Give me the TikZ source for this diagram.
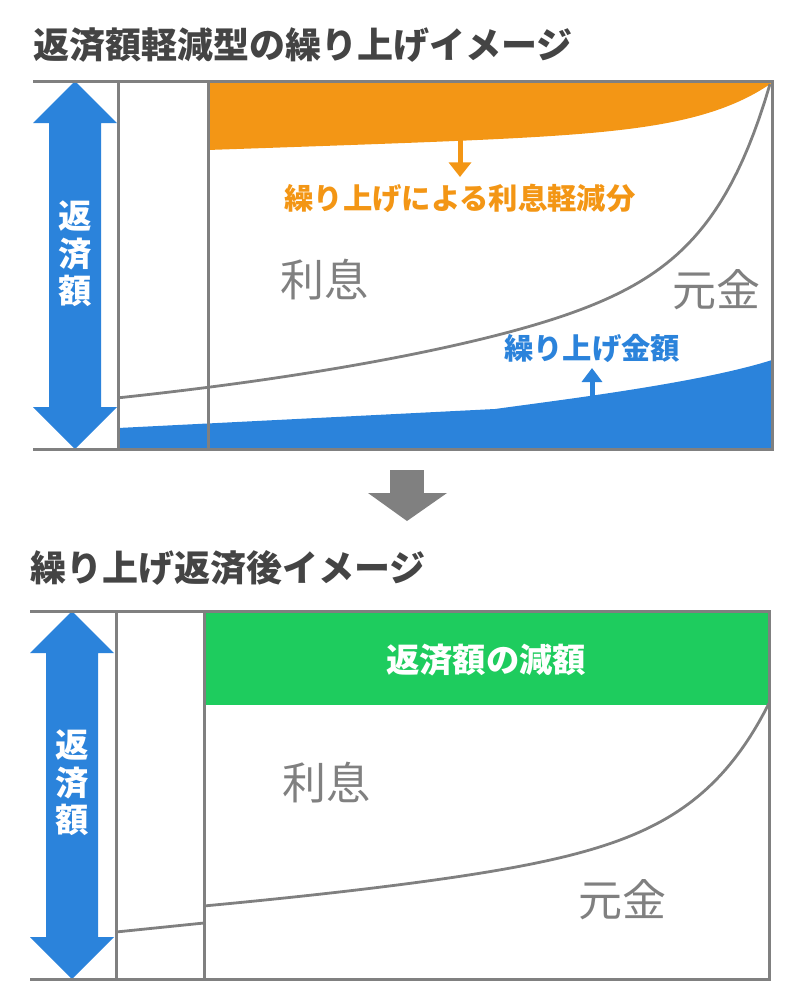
\documentclass[tikz,border=0pt]{standalone}
\usepackage{fontspec}
\setmainfont{Noto Sans CJK JP}
\usetikzlibrary{calc,arrows.meta}
\definecolor{payblue}{RGB}{43,131,219}
\definecolor{cutorange}{RGB}{243,150,21}
\definecolor{cutgreen}{RGB}{30,204,94}
\definecolor{framegray}{RGB}{128,128,128}
\definecolor{titlegray}{RGB}{68,68,68}
% double arrow for the payment size: (centre x, top y, bottom y)
\def\payarrow(#1,#2,#3){\fill[payblue] (#1,#2) -- (#1+42,#2+42) -- (#1+26,#2+42) -- (#1+26,#3-42) -- (#1+42,#3-42) -- (#1,#3) -- (#1-42,#3-42) -- (#1-26,#3-42) -- (#1-26,#2+42) -- (#1-42,#2+42) -- cycle;}

\tikzset{
	frameline/.style={draw=framegray, line width=2.25pt},
	curveline/.style={draw=framegray, line width=2.1pt},
	heading/.style={anchor=west, inner sep=0pt, text=titlegray, font=\bfseries\fontsize{27pt}{30pt}\selectfont},
	sizelabel/.style={align=center, inner sep=0pt, text=white, font=\bfseries\fontsize{25pt}{28pt}\selectfont},
	partlabel/.style={inner sep=0pt, text=framegray, font=\fontsize{33pt}{36pt}\selectfont},
	notelabel/.style={inner sep=0pt, font=\bfseries\fontsize{22pt}{26pt}\selectfont}
}

\begin{document}
\begin{tikzpicture}[x=0.75pt, y=-0.75pt]
		\useasboundingbox (0,0) rectangle (800,1000);
		%%%%% BEFORE %%%%%
		\node[heading] (topTitle) at (33,45) {返済額軽減型の繰り上げイメージ};
		
		\fill[cutorange] (208,83) -- plot[domain=208:772, samples=100] (\x, {150-0.034*(\x-208)-48*exp((\x-772)/73)}) -- cycle;
		\fill[payblue] (118,448) -- (118,428) -- (495,409) .. controls (560,400) and (700,383) .. (772,360) -- (772,448) -- cycle;
		
		\payarrow(75,81,449)
		\node[sizelabel] (topSize) at (75,254) {返\\済\\額};
		
		\draw[curveline] plot[domain=118:770, samples=120] (\x, {449-40*exp(\x/480)-166*exp((\x-770)/55)});
		
		\draw[frameline] (33,81) -- (772,81) -- (772,449) -- (33,449);
		\draw[frameline] (118,81) -- (118,449);
		\draw[frameline] (208,81) -- (208,449);
		
		\node[notelabel, text=cutorange] (savedLabel) at (460,198) {繰り上げによる利息軽減分};
		\coordinate (savedTop) at (460,140);
		\draw[cutorange, line width=3.75pt, -{Triangle[width=16.5pt, length=11pt]}] (savedTop) -- (460,177);
		
		\node[notelabel, text=payblue] (prepayLabel) at (592,348) {繰り上げ金額};
		\coordinate (prepayTop) at (592,398);
		\draw[payblue, line width=3.75pt, -{Triangle[width=15pt, length=10.5pt]}] (prepayTop) -- (592,368);
		
		\node[partlabel] (topInterest) at (324,280) {利息};
		\node[partlabel] (topPrincipal) at (716,290) {元金};
		
		%%%%% STEP %%%%%
		\fill[framegray] (390,470) rectangle (424,494);
		\fill[framegray] (368,493) -- (447,493) -- (407,521) -- cycle;
		
		%%%%% AFTER %%%%%
		\node[heading] (bottomTitle) at (30,568) {繰り上げ返済後イメージ};
		
		\fill[cutgreen] (204,612) rectangle (769,705);
		\node[notelabel, text=white, font=\bfseries\fontsize{25pt}{28pt}\selectfont] (reducedLabel) at (486,660) {返済額の減額};
		
		\payarrow(72,611,979)
		\node[sizelabel] (bottomSize) at (72,783) {返\\済\\額};
		
		\draw[curveline] (116,932) -- (204,923);
		\draw[curveline] plot[domain=204:769, samples=120] (\x, {979-56.3*exp(\x/785)-124*exp((\x-768)/70)});
		
		\draw[frameline] (30,611) -- (769,611) -- (769,979) -- (30,979);
		\draw[frameline] (116,611) -- (116,979);
		\draw[frameline] (204,611) -- (204,979);
		
		\node[partlabel] (bottomInterest) at (326,783) {利息};
		\node[partlabel] (bottomPrincipal) at (622,900) {元金};
\end{tikzpicture}
\end{document}
